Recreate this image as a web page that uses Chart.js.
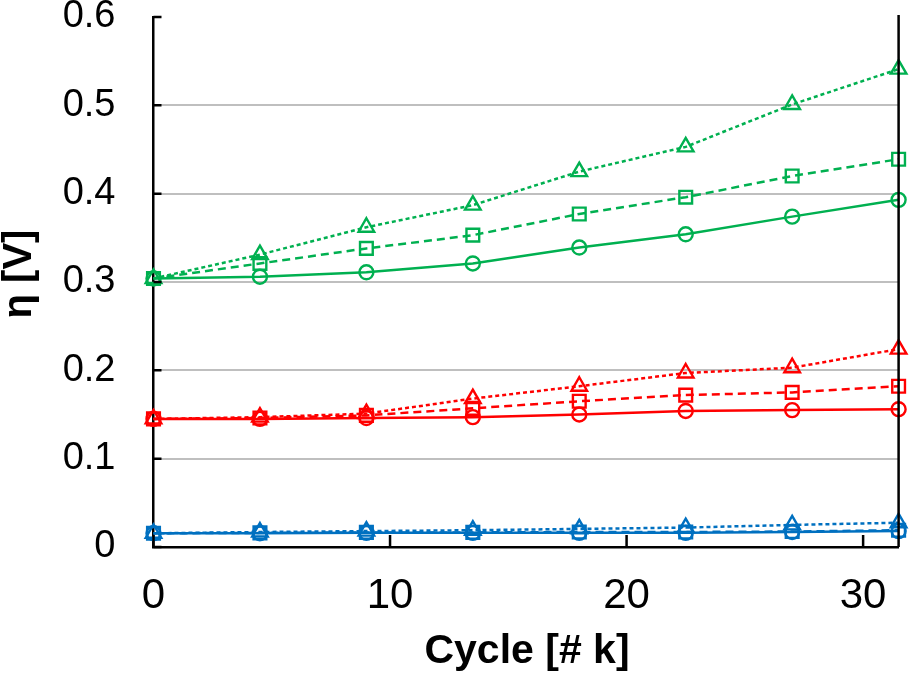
<!DOCTYPE html>
<html>
<head>
<meta charset="utf-8">
<script src="https://cdn.jsdelivr.net/npm/chart.js@4"></script>
<style>
  html, body { margin: 0; padding: 0; background: #fff; }
  #wrap { width: 910px; height: 675px; }
</style>
</head>
<body>
<div id="wrap"><canvas id="grafico"></canvas></div>
<script>
// datos
const cycles = [0, 4.5, 9, 13.5, 18, 22.5, 27, 31.5];
const xTicks = [0, 10, 20, 30];
const yTicks = [0, 0.1, 0.2, 0.3, 0.4, 0.5, 0.6];

const greenCircle = [0.304, 0.306, 0.311, 0.321, 0.339, 0.354, 0.374, 0.393];
const greenSquare = [0.304, 0.321, 0.338, 0.353, 0.377, 0.396, 0.420, 0.439];
const greenTriangle = [0.304, 0.331, 0.362, 0.387, 0.425, 0.453, 0.501, 0.541];
const redCircle = [0.145, 0.145, 0.146, 0.147, 0.150, 0.154, 0.155, 0.156];
const redSquare = [0.145, 0.146, 0.149, 0.157, 0.165, 0.172, 0.175, 0.182];
const redTriangle = [0.145, 0.147, 0.151, 0.168, 0.182, 0.197, 0.203, 0.224];
const blueCircle = [0.0155, 0.0155, 0.016, 0.016, 0.016, 0.016, 0.017, 0.018];
const blueSquare = [0.0155, 0.016, 0.0165, 0.0165, 0.017, 0.017, 0.0175, 0.019];
const blueTriangle = [0.0155, 0.017, 0.018, 0.019, 0.0205, 0.022, 0.025, 0.0275];

const VERDE = "#00B050";
const ROJO = "#FF0000";
const AZUL = "#0070C0";

function serie(valores, color, forma) {
  let estilos = {
    circle: { dash: [], r: 7 },
    rect: { dash: [8, 5], r: 9 },
    triangle: { dash: [4, 3], r: 9 },
  };
  return {
    data: cycles.map((c, i) => ({ x: c, y: valores[i] })),
    borderColor: color,
    borderWidth: 2.5,
    borderDash: estilos[forma].dash,
    pointStyle: forma,
    pointRadius: estilos[forma].r,
    pointBorderWidth: 2.4,
    pointBorderColor: color,
    pointBackgroundColor: "rgba(0,0,0,0)",
    tension: 0,
    clip: 12,
  };
}

// ticks hacia dentro, borde derecho y títulos de ejes
const extras = {
  id: "extras",
  afterDraw(chart) {
    let ctx = chart.ctx;
    let a = chart.chartArea;
    let sx = chart.scales.x;
    let sy = chart.scales.y;
    ctx.save();
    ctx.strokeStyle = "#000";
    ctx.lineWidth = 2.5;
    ctx.beginPath();
    yTicks.forEach((v) => {
      let py = sy.getPixelForValue(v);
      ctx.moveTo(a.left, py);
      ctx.lineTo(a.left + 8, py);
    });
    xTicks.forEach((v) => {
      let px = sx.getPixelForValue(v);
      ctx.moveTo(px, a.bottom);
      ctx.lineTo(px, a.bottom - 12);
    });
    ctx.moveTo(a.right, a.top - 2);
    ctx.lineTo(a.right, a.bottom);
    ctx.stroke();

    ctx.fillStyle = "#000";
    ctx.textAlign = "center";
    ctx.textBaseline = "alphabetic";
    ctx.font = "bold 41px 'Liberation Sans', Arial, sans-serif";
    ctx.fillText("Cycle [# k]", 527, 663);

    ctx.translate(20, 274);
    ctx.rotate(-Math.PI / 2);
    ctx.textBaseline = "middle";
    ctx.font = "bold 40px 'Liberation Sans', Arial, sans-serif";
    ctx.fillText("η [V]", 0, 0);
    ctx.restore();
  },
};

function cargarGrafico() {
  let canvas = document.getElementById("grafico");

  let config = {
    type: "line",
    data: {
      datasets: [
        serie(greenCircle, VERDE, "circle"),
        serie(greenSquare, VERDE, "rect"),
        serie(greenTriangle, VERDE, "triangle"),
        serie(redCircle, ROJO, "circle"),
        serie(redSquare, ROJO, "rect"),
        serie(redTriangle, ROJO, "triangle"),
        serie(blueCircle, AZUL, "circle"),
        serie(blueSquare, AZUL, "rect"),
        serie(blueTriangle, AZUL, "triangle"),
      ],
    },
    options: {
      responsive: true,
      maintainAspectRatio: false,
      animation: false,
      layout: {
        padding: { left: 0, right: 8, top: 17, bottom: 0 },
      },
      plugins: {
        legend: { display: false },
        tooltip: { enabled: false },
      },
      scales: {
        x: {
          type: "linear",
          min: 0,
          max: 31.5,
          afterBuildTicks: (s) => {
            s.ticks = xTicks.map((v) => ({ value: v }));
          },
          afterFit: (s) => {
            s.height = 128;
            s.paddingLeft = 0;
            s.paddingRight = 0;
          },
          grid: { display: false, drawTicks: false },
          border: { display: true, color: "#000", width: 2.5 },
          ticks: {
            color: "#000",
            padding: 24,
            maxRotation: 0,
            font: { family: "'Liberation Sans Narrow', 'Liberation Sans', Arial", size: 42 },
          },
        },
        y: {
          min: 0,
          max: 0.6,
          afterBuildTicks: (s) => {
            s.ticks = yTicks.map((v) => ({ value: v }));
          },
          afterFit: (s) => {
            s.width = 153.5;
            s.paddingTop = 0;
            s.paddingBottom = 0;
          },
          grid: {
            drawTicks: false,
            lineWidth: 2,
            color: (c) =>
              c.tick && (c.tick.value === 0 || c.tick.value === 0.6)
                ? "rgba(0,0,0,0)"
                : "#BFBFBF",
          },
          border: { display: true, color: "#000", width: 2.5 },
          ticks: {
            color: "#000",
            padding: 38,
            font: { family: "'Liberation Sans', Arial", size: 38 },
            callback: (v) => String(Math.round(v * 10) / 10),
          },
        },
      },
    },
    plugins: [extras],
  };

  new Chart(canvas, config);
}

document.addEventListener("DOMContentLoaded", () => {
  cargarGrafico();
});
</script>
</body>
</html>
